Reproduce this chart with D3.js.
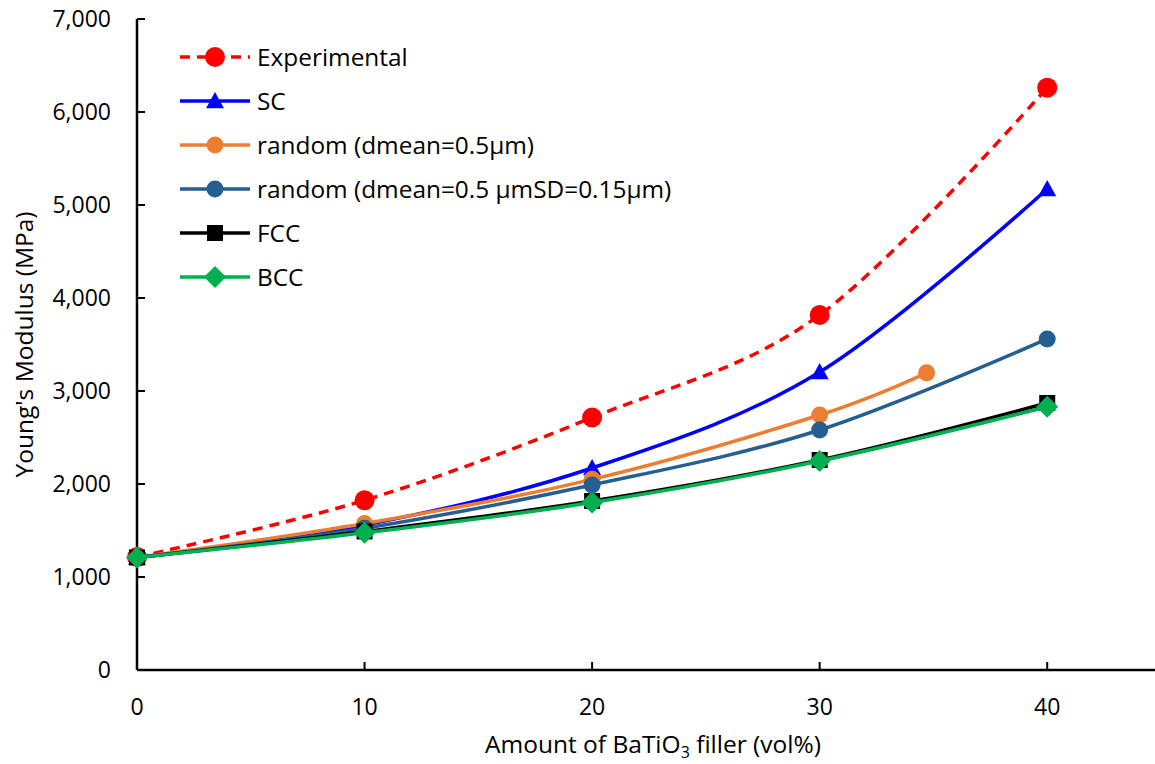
<!DOCTYPE html>
<html lang="en">
<head>
<meta charset="UTF-8" />
<title>Young's Modulus vs BaTiO3 filler</title>
<script src="https://d3js.org/d3.v7.min.js"></script>
<style>
  html, body { margin: 0; padding: 0; background: #fff; }
  svg text { font-family: "Open Sans", sans-serif; fill: #000; }
</style>
</head>
<body>
<div id="chart"></div>
<script>
// data
const xTicks = [0, 10, 20, 30, 40];
const yTicks = [0, 1000, 2000, 3000, 4000, 5000, 6000, 7000];
const seriesNames = ["Experimental", "SC", "random (dmean=0.5\u00b5m)", "random (dmean=0.5 \u00b5mSD=0.15\u00b5m)", "FCC", "BCC"];
const xExp = [0, 10, 20, 30, 40];
const yExp = [1215, 1825, 2715, 3817, 6262];
const xSC = [0, 10, 20, 30, 40];
const ySC = [1210, 1560, 2172, 3204, 5172];
const xRand = [0, 10, 20, 30, 34.7];
const yRand = [1210, 1575, 2050, 2742, 3195];
const xRandSD = [0, 10, 20, 30, 40];
const yRandSD = [1210, 1525, 1990, 2581, 3560];
const xFCC = [0, 10, 20, 30, 40];
const yFCC = [1210, 1490, 1817, 2258, 2871];
const xBCC = [0, 10, 20, 30, 40];
const yBCC = [1210, 1475, 1800, 2247, 2830];

const W = 1155, H = 764;
const svg = d3.select("#chart").append("svg").attr("width", W).attr("height", H);

const x = d3.scaleLinear().domain([0, 45]).range([137, 1161]);
const y = d3.scaleLinear().domain([0, 7000]).range([670, 19]);

// series styles
const styles = [
  { color: "#ff0000", dash: "10,7", marker: "circle", size: 10 },
  { color: "#0000ff", dash: null, marker: "triangle", size: 9 },
  { color: "#ed7d31", dash: null, marker: "circle", size: 8.5 },
  { color: "#255e91", dash: null, marker: "circle", size: 8.5 },
  { color: "#000000", dash: null, marker: "square", size: 8 },
  { color: "#00b050", dash: null, marker: "diamond", size: 11 }
];
const xs = [xExp, xSC, xRand, xRandSD, xFCC, xBCC];
const ys = [yExp, ySC, yRand, yRandSD, yFCC, yBCC];

function drawMarker(g, type, cx, cy, s, color) {
  if (type === "circle") {
    g.append("circle").attr("cx", cx).attr("cy", cy).attr("r", s).attr("fill", color);
  } else if (type === "triangle") {
    g.append("path").attr("d", `M${cx},${cy - s}L${cx + s},${cy + s * 0.8}L${cx - s},${cy + s * 0.8}Z`).attr("fill", color);
  } else if (type === "square") {
    g.append("rect").attr("x", cx - s).attr("y", cy - s).attr("width", 2 * s).attr("height", 2 * s).attr("fill", color);
  } else if (type === "diamond") {
    g.append("path").attr("d", `M${cx},${cy - s}L${cx + s},${cy}L${cx},${cy + s}L${cx - s},${cy}Z`).attr("fill", color);
  }
}

// axes
svg.append("line").attr("x1", x(0)).attr("x2", W).attr("y1", y(0)).attr("y2", y(0))
  .attr("stroke", "#000").attr("stroke-width", 2.5);
svg.append("line").attr("x1", x(0)).attr("x2", x(0)).attr("y1", y(0)).attr("y2", y(7000))
  .attr("stroke", "#000").attr("stroke-width", 2.5);

xTicks.forEach(t => {
  svg.append("line").attr("x1", x(t)).attr("x2", x(t)).attr("y1", y(0)).attr("y2", y(0) - 8)
    .attr("stroke", "#000").attr("stroke-width", 2);
  svg.append("text").attr("x", x(t)).attr("y", 715).attr("text-anchor", "middle")
    .attr("font-size", 23).text(t);
});
const fmt = d3.format(",");
yTicks.forEach(t => {
  svg.append("line").attr("x1", x(0)).attr("x2", x(0) + 8).attr("y1", y(t)).attr("y2", y(t))
    .attr("stroke", "#000").attr("stroke-width", 2);
  svg.append("text").attr("x", 111).attr("y", y(t)).attr("dy", "0.36em").attr("text-anchor", "end")
    .attr("font-size", 23).text(fmt(t));
});

// axis titles
const xt = svg.append("text").attr("x", 653).attr("y", 753).attr("text-anchor", "middle").attr("font-size", 24.5);
xt.append("tspan").text("Amount of BaTiO");
xt.append("tspan").attr("font-size", 16).attr("dy", 5).text("3");
xt.append("tspan").attr("dy", -5).text(" filler (vol%)");
svg.append("text").attr("transform", `translate(33,${(y(0) + y(7000)) / 2}) rotate(-90)`)
  .attr("text-anchor", "middle").attr("font-size", 24.5).text("Young's Modulus (MPa)");

// lines
const line = d3.line().x(d => x(d[0])).y(d => y(d[1])).curve(d3.curveCardinal.tension(0));
styles.forEach((st, i) => {
  const pts = xs[i].map((v, j) => [v, ys[i][j]]);
  const g = svg.append("g");
  g.append("path").attr("d", line(pts)).attr("fill", "none").attr("stroke", st.color)
    .attr("stroke-width", 3.5).attr("stroke-dasharray", st.dash);
  pts.forEach(p => drawMarker(g, st.marker, x(p[0]), y(p[1]), st.size, st.color));
});

// legend
const legend = svg.append("g");
seriesNames.forEach((name, i) => {
  const ly = 57 + i * 44;
  const st = styles[i];
  legend.append("line").attr("x1", 180).attr("x2", 250).attr("y1", ly).attr("y2", ly)
    .attr("stroke", st.color).attr("stroke-width", 3.5).attr("stroke-dasharray", st.dash);
  drawMarker(legend, st.marker, 215, ly, st.size, st.color);
  legend.append("text").attr("x", 257).attr("y", ly).attr("dy", "0.36em")
    .attr("font-size", 24.4).text(name);
});
</script>
</body>
</html>
